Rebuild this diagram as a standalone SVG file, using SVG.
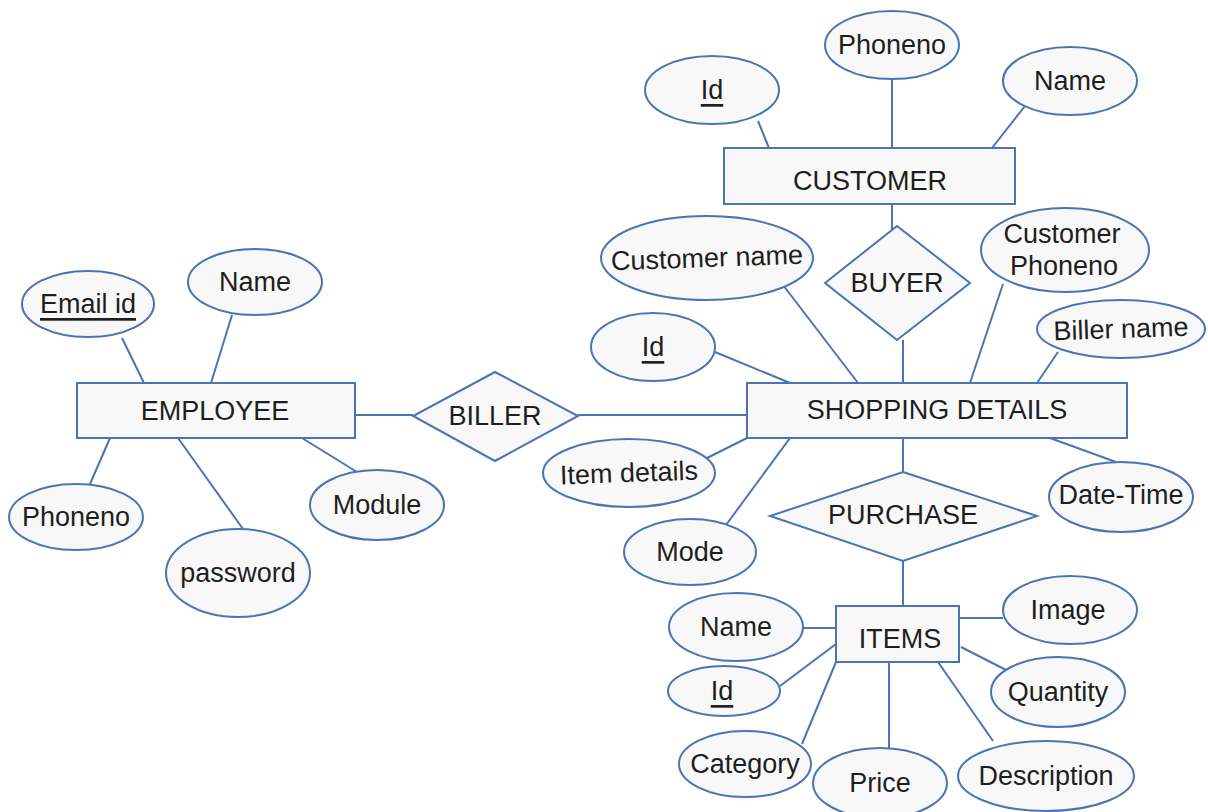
<svg xmlns="http://www.w3.org/2000/svg" width="1208" height="812" viewBox="0 0 1208 812">
<style>
.s{fill:#f8f8f8;stroke:#4a74b4;stroke-width:2}
.c line{stroke:#4a74b4;stroke-width:2}
text{font-family:"Liberation Sans",Arial,sans-serif;font-size:27px;fill:#1e1e1e;text-anchor:middle;dominant-baseline:central}
.u{text-decoration:underline}
</style>
<rect width="1208" height="812" fill="#ffffff"/>
<g class="c" id="connectors">
<line x1="355" y1="415" x2="413" y2="415"/>
<line x1="578" y1="415" x2="748" y2="415"/>
<line x1="122" y1="338" x2="144" y2="383"/>
<line x1="232" y1="315" x2="211" y2="383"/>
<line x1="110" y1="438" x2="90" y2="484"/>
<line x1="178" y1="438" x2="243" y2="529"/>
<line x1="302" y1="438" x2="357" y2="472"/>
<line x1="758" y1="121" x2="769" y2="148"/>
<line x1="892" y1="79" x2="892" y2="148"/>
<line x1="1025" y1="106" x2="992" y2="148"/>
<line x1="892" y1="204" x2="892" y2="234"/>
<line x1="903" y1="340" x2="903" y2="383"/>
<line x1="783" y1="285" x2="858" y2="383"/>
<line x1="715" y1="352" x2="790" y2="383"/>
<line x1="1003" y1="284" x2="970" y2="383"/>
<line x1="1058" y1="352" x2="1037" y2="383"/>
<line x1="747" y1="438" x2="705" y2="459"/>
<line x1="790" y1="438" x2="726" y2="525"/>
<line x1="1050" y1="438" x2="1116" y2="462"/>
<line x1="903" y1="438" x2="903" y2="472"/>
<line x1="903" y1="561" x2="903" y2="606"/>
<line x1="802" y1="628" x2="836" y2="628"/>
<line x1="780" y1="686" x2="836" y2="644"/>
<line x1="802" y1="744" x2="836" y2="662"/>
<line x1="889" y1="662" x2="889" y2="748"/>
<line x1="938" y1="662" x2="993" y2="741"/>
<line x1="961" y1="647" x2="1012" y2="673"/>
<line x1="959" y1="618" x2="1003" y2="618"/>
</g>
<g id="employee"><rect class="s" x="77" y="383" width="278" height="55"/><text x="215" y="411">EMPLOYEE</text></g>
<g id="emp-email"><ellipse class="s" cx="88" cy="304" rx="66" ry="33"/><text class="u" x="88" y="304">Email id</text></g>
<g id="emp-name"><ellipse class="s" cx="255" cy="282" rx="67" ry="33"/><text x="255" y="282">Name</text></g>
<g id="emp-phoneno"><ellipse class="s" cx="76" cy="517" rx="67" ry="33"/><text x="76" y="517">Phoneno</text></g>
<g id="emp-password"><ellipse class="s" cx="238" cy="573" rx="72" ry="44"/><text x="238" y="573">password</text></g>
<g id="emp-module"><ellipse class="s" cx="377" cy="505" rx="67" ry="35"/><text x="377" y="505">Module</text></g>
<g id="biller"><polygon class="s" points="495,372 578,416 495,461 413,416"/><text x="495" y="416">BILLER</text></g>
<g id="customer"><rect class="s" x="724" y="148" width="291" height="56"/><text x="870" y="181">CUSTOMER</text></g>
<g id="cust-id"><ellipse class="s" cx="712" cy="90" rx="67" ry="34"/><text class="u" x="712" y="90">Id</text></g>
<g id="cust-phoneno"><ellipse class="s" cx="892" cy="45" rx="67" ry="34"/><text x="892" y="45">Phoneno</text></g>
<g id="cust-name"><ellipse class="s" cx="1070" cy="81" rx="67" ry="34"/><text x="1070" y="81">Name</text></g>
<g id="buyer"><polygon class="s" points="897,226 970,283 897,340 825,283"/><text x="897" y="283">BUYER</text></g>
<g id="shopping"><rect class="s" x="747" y="383" width="380" height="55"/><text x="937" y="410">SHOPPING DETAILS</text></g>
<g id="sd-custname"><ellipse class="s" cx="707" cy="258" rx="106" ry="42"/><text x="707" y="258" transform="rotate(-2 707 258)">Customer name</text></g>
<g id="sd-id"><ellipse class="s" cx="653" cy="347" rx="62" ry="34"/><text class="u" x="653" y="347">Id</text></g>
<g id="sd-custphone"><ellipse class="s" cx="1065" cy="250" rx="84" ry="42"/><text x="1062" y="234">Customer</text><text x="1064" y="266">Phoneno</text></g>
<g id="sd-biller"><ellipse class="s" cx="1121" cy="329" rx="84" ry="29"/><text x="1121" y="329" transform="rotate(-2 1121 329)">Biller name</text></g>
<g id="sd-item"><ellipse class="s" cx="629" cy="473" rx="86" ry="34"/><text x="629" y="473" transform="rotate(-2 629 473)">Item details</text></g>
<g id="sd-mode"><ellipse class="s" cx="690" cy="552" rx="66" ry="33"/><text x="690" y="552">Mode</text></g>
<g id="sd-datetime"><ellipse class="s" cx="1121" cy="497" rx="72" ry="35"/><text x="1121" y="495">Date-Time</text></g>
<g id="purchase"><polygon class="s" points="903,472 1037,516 903,561 770,516"/><text x="903" y="515">PURCHASE</text></g>
<g id="items"><rect class="s" x="836" y="606" width="123" height="56"/><text x="900" y="639">ITEMS</text></g>
<g id="it-name"><ellipse class="s" cx="736" cy="627" rx="67" ry="34"/><text x="736" y="627">Name</text></g>
<g id="it-id"><ellipse class="s" cx="724" cy="691" rx="56" ry="25"/><text class="u" x="722" y="691">Id</text></g>
<g id="it-category"><ellipse class="s" cx="745" cy="764" rx="66" ry="33"/><text x="745" y="764">Category</text></g>
<g id="it-price"><ellipse class="s" cx="880" cy="783" rx="67" ry="35"/><text x="880" y="783">Price</text></g>
<g id="it-description"><ellipse class="s" cx="1046" cy="776" rx="88" ry="35"/><text x="1046" y="776">Description</text></g>
<g id="it-quantity"><ellipse class="s" cx="1058" cy="692" rx="67" ry="35"/><text x="1058" y="692">Quantity</text></g>
<g id="it-image"><ellipse class="s" cx="1070" cy="610" rx="67" ry="34"/><text x="1068" y="610">Image</text></g>
</svg>
